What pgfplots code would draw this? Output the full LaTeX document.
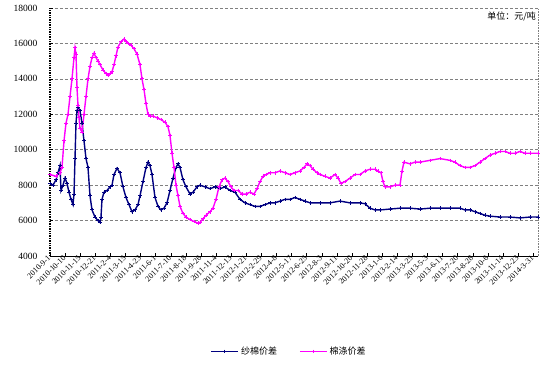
\documentclass[border=0pt]{standalone}
\usepackage{pgfplots}
\pgfplotsset{compat=1.18}
\usepackage{fontspec}
\setmainfont{Liberation Serif}
\newfontfamily\cjk{Noto Sans CJK SC}
\definecolor{navyb}{RGB}{0,0,128}
\definecolor{mag}{RGB}{255,0,255}
\begin{document}
\begin{tikzpicture}
\begin{axis}[
  scale only axis, width=488pt, height=248pt,
  xmin=50, xmax=538, ymin=4000, ymax=18000,
  ytick={4000,6000,...,18000},
  scaled y ticks=false,
  xtick={50,65.1,...,534},
  xticklabels={2010-9-1,2010-10-10,2010-11-15,2010-12-21,2011-2-4,2011-3-15,2011-4-23,2011-6-1,2011-7-10,2011-8-18,2011-9-26,2011-11-4,2011-12-13,2012-1-21,2012-2-29,2012-4-8,2012-5-17,2012-6-25,2012-8-3,2012-9-11,2012-10-20,2012-11-28,2013-1-6,2013-2-14,2013-3-25,2013-5-3,2013-6-11,2013-7-20,2013-8-28,2013-10-6,2013-11-14,2013-12-23,2014-3-31},
  x tick label style={rotate=45, anchor=east, font=\fontsize{8}{8}\selectfont, inner sep=1pt},
  y tick label style={font=\fontsize{9.5}{10}\selectfont, xshift=-9pt},
  /pgf/number format/1000 sep={},
  /pgf/number format/assume math mode=true,
  axis lines*=left,
  axis line style={-},
  x axis line style={black, line width=1pt},
  y axis line style={black, densely dotted, line width=1.4pt},
  tick align=inside,
  major tick length=3pt,
  tick style={black, line width=0.6pt},
  ymajorgrids,
  grid style={gray, densely dashed, line width=0.5pt},
  legend style={at={(0.49,-0.385)}, anchor=center, draw=none, legend columns=2,
    font=\cjk\fontsize{9}{10}\selectfont,
    /tikz/every even column/.append style={column sep=20pt}},
  legend image code/.code={\draw[#1, mark=none] (0cm,0cm) -- (0.95cm,0cm); \draw[#1, only marks] plot coordinates {(0.475cm,0cm)};},
  clip=false,
]
\addplot[navyb, line width=1.4pt, mark=+, mark size=1.8pt, mark options={solid, line width=0.9pt}] coordinates {
(50,8100)(53,8000)(56,8300)(58,8700)(60,9100)(61,7700)(63,8000)(65,8400)(67,8100)(69,7600)(71,7200)(73,6900)(74,7500)(75,9500)(76,11500)(77,12200)(78,12400)(80,12200)(82,11500)(84,10500)(86,9500)(88,9000)(90,7400)(92,6600)(95,6200)(98,6000)(100,5900)(101,6200)(102,7200)(104,7600)(107,7700)(110,7900)(112,8000)(114,8600)(117,8950)(120,8700)(123,7900)(126,7300)(129,6900)(132,6500)(135,6600)(138,6900)(140,7400)(143,8200)(146,9000)(148,9300)(150,9100)(152,8600)(155,7300)(158,6800)(161,6600)(164,6700)(167,7000)(170,7700)(173,8400)(176,9000)(178,9200)(180,9000)(183,8300)(186,7900)(190,7500)(193,7600)(197,7900)(200,8000)(205,7900)(210,7800)(215,7900)(220,7800)(225,7900)(230,7700)(235,7600)(240,7200)(245,7000)(250,6900)(255,6800)(260,6800)(265,6900)(270,7000)(275,7000)(280,7100)(285,7200)(290,7200)(295,7300)(300,7200)(305,7100)(310,7000)(320,7000)(330,7000)(340,7100)(350,7000)(360,7000)(365,6950)(370,6700)(375,6600)(380,6600)(390,6650)(400,6700)(410,6700)(420,6650)(430,6700)(440,6700)(450,6700)(460,6700)(465,6600)(470,6600)(475,6500)(480,6400)(485,6300)(490,6250)(500,6200)(510,6200)(520,6150)(530,6200)(538,6200)
};
\addlegendentry{纱棉价差}
\addplot[mag, line width=1.4pt, mark=+, mark size=1.8pt, mark options={solid, line width=0.9pt}] coordinates {
(50,8600)(56,8500)(60,8700)(62,9000)(64,10500)(66,11500)(68,12000)(70,13000)(72,14000)(74,15200)(75,15750)(76,15400)(77,13500)(78,12500)(79,11800)(80,11200)(82,11000)(84,12000)(86,13000)(88,14000)(90,14700)(92,15200)(94,15450)(96,15200)(98,15000)(100,14800)(103,14500)(106,14300)(108,14200)(110,14300)(112,14400)(114,14800)(116,15300)(118,15800)(121,16100)(124,16250)(126,16100)(128,16000)(131,15900)(134,15700)(137,15400)(140,14800)(142,14000)(144,13400)(146,12600)(148,12000)(150,11900)(153,11900)(157,11800)(161,11700)(165,11550)(168,11300)(170,10800)(172,9800)(174,9000)(176,8000)(178,7400)(180,6800)(183,6400)(186,6200)(190,6050)(194,5950)(198,5850)(200,5900)(203,6100)(206,6300)(210,6500)(213,6700)(216,7200)(219,7900)(222,8300)(225,8400)(228,8200)(231,7900)(234,7700)(238,7700)(242,7500)(246,7500)(250,7600)(254,7500)(257,7800)(260,8200)(263,8500)(266,8600)(270,8700)(275,8700)(280,8800)(285,8700)(290,8600)(295,8700)(300,8800)(304,9000)(307,9200)(310,9100)(313,8900)(317,8700)(320,8600)(325,8500)(330,8400)(335,8600)(338,8400)(341,8100)(345,8200)(350,8400)(355,8600)(360,8600)(365,8800)(370,8900)(375,8900)(378,8800)(381,8700)(383,8200)(385,7900)(390,7900)(395,8000)(400,8000)(402,8800)(404,9300)(410,9200)(415,9300)(420,9300)(430,9400)(440,9500)(450,9400)(455,9300)(460,9100)(465,9000)(470,9000)(475,9100)(480,9300)(485,9500)(490,9700)(495,9800)(500,9900)(505,9900)(510,9800)(515,9800)(520,9900)(525,9800)(530,9800)(538,9800)
};
\addlegendentry{棉涤价差}
\draw[gray, densely dotted, line width=0.6pt] (rel axis cs:1,0) -- (rel axis cs:1,1);
\node[anchor=north east, font=\cjk\fontsize{9}{10}\selectfont, inner sep=1pt] at (rel axis cs:0.998,0.99) {单位：元/吨};
\end{axis}
\path ([xshift=-50pt,yshift=-125pt]current axis.south west) rectangle ([xshift=19pt,yshift=8pt]current axis.north east);
\end{tikzpicture}
\end{document}
